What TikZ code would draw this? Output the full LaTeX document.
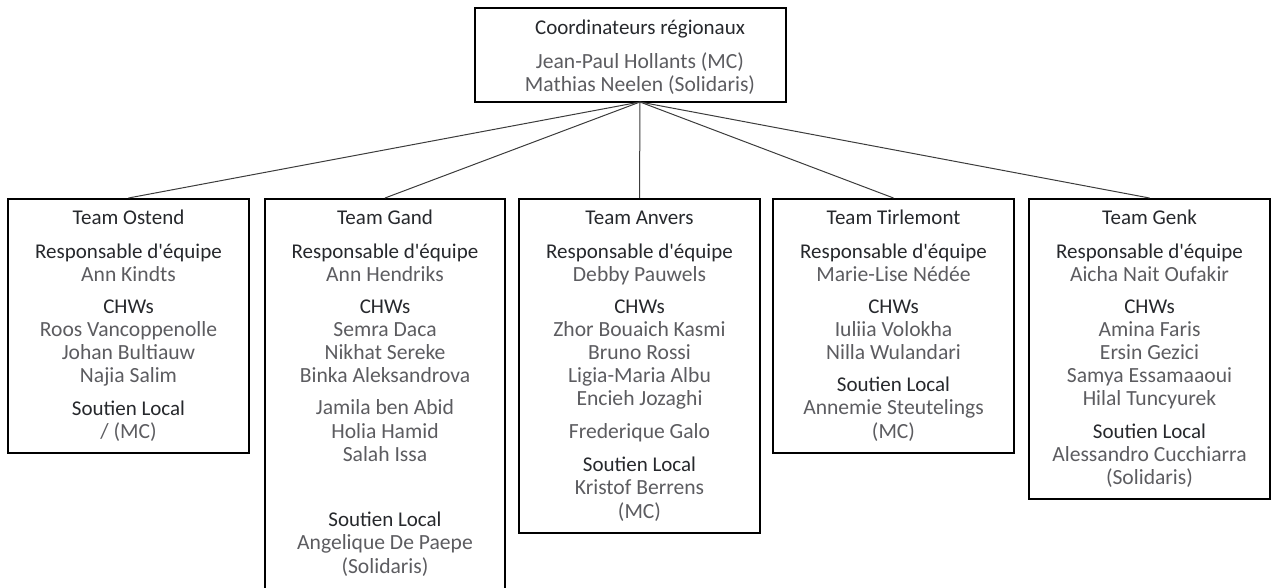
\documentclass[tikz,border=0pt]{standalone}
\usepackage{fontspec}
\setmainfont{Carlito}[Ligatures=TeXOff]
\definecolor{hdcol}{RGB}{38,40,44}
\definecolor{nmcol}{RGB}{92,92,96}
\definecolor{lncol}{RGB}{60,60,60}
\tikzset{
  orgbox/.style={draw=black, line width=2pt, rectangle, inner sep=0pt},
  hd/.style={anchor=base, inner sep=0pt, text=hdcol, font=\fontsize{21}{23}\selectfont},
  nm/.style={anchor=base, inner sep=0pt, text=nmcol, font=\fontsize{21.6}{23}\selectfont},
  link/.style={draw=lncol, line width=1pt}
}
\begin{document}
\begin{tikzpicture}[x=1pt,y=-1pt]
\useasboundingbox (0,0) rectangle (1278,587);
\clip (0,0) rectangle (1278,587);
% boxes
\node[orgbox, minimum width=311pt, minimum height=94pt] (top) at (630.5,55) {};
\node[orgbox, minimum width=241pt, minimum height=254pt] (ostend) at (128.5,326) {};
\node[orgbox, minimum width=240pt, minimum height=401pt] (gand) at (385,399.5) {};
\node[orgbox, minimum width=241pt, minimum height=334pt] (anvers) at (639.5,366) {};
\node[orgbox, minimum width=241pt, minimum height=254pt] (tirl) at (893.5,326) {};
\node[orgbox, minimum width=241pt, minimum height=300pt] (genk) at (1149.5,349) {};
% connectors
\coordinate (hub) at (640,102);
\draw[link] (hub) -- (ostend.north);
\draw[link] (hub) -- (gand.north);
\draw[link] (hub) -- (anvers.north);
\draw[link] (hub) -- (tirl.north);
\draw[link] (hub) -- (genk.north);
% top text
\node[hd] (t1) at (640,34.5) {Coordinateurs régionaux};
\node[nm] (t2) at (640,68.5) {Jean-Paul Hollants (MC)};
\node[nm] (t3) at (640,91.5) {Mathias Neelen (Solidaris)};
% Ostend
\node[hd] (o1) at (128.5,224.5) {Team Ostend};
\node[hd] (o2) at (128.5,258.5) {Responsable d'équipe};
\node[nm] (o3) at (128.5,281.5) {Ann Kindts};
\node[hd] (o4) at (128.5,313.5) {CHWs};
\node[nm] (o5) at (128.5,336.5) {Roos Vancoppenolle};
\node[nm] (o6) at (128.5,359.5) {Johan Bultiauw};
\node[nm] (o7) at (128.5,382.5) {Najia Salim};
\node[hd] (o8) at (128.5,415.5) {Soutien Local};
\node[nm] (o9) at (128.5,438.5) {/ (MC)};
% Gand
\node[hd] (g1) at (385,224.5) {Team Gand};
\node[hd] (g2) at (385,258.5) {Responsable d'équipe};
\node[nm] (g3) at (385,281.5) {Ann Hendriks};
\node[hd] (g4) at (385,313.5) {CHWs};
\node[nm] (g5) at (385,336.5) {Semra Daca};
\node[nm] (g6) at (385,359.5) {Nikhat Sereke};
\node[nm] (g7) at (385,382.5) {Binka Aleksandrova};
\node[nm] (g8) at (385,414.5) {Jamila ben Abid};
\node[nm] (g9) at (385,438.5) {Holia Hamid};
\node[nm] (g10) at (385,461.5) {Salah Issa};
\node[hd] (g11) at (385,526.5) {Soutien Local};
\node[nm] (g12) at (385,549.5) {Angelique De Paepe};
\node[nm] (g13) at (385,573.5) {(Solidaris)};
% Anvers
\node[hd] (a1) at (639.5,224.5) {Team Anvers};
\node[hd] (a2) at (639.5,258.5) {Responsable d'équipe};
\node[nm] (a3) at (639.5,281.5) {Debby Pauwels};
\node[hd] (a4) at (639.5,313.5) {CHWs};
\node[nm] (a5) at (639.5,336.5) {Zhor Bouaich Kasmi};
\node[nm] (a6) at (639.5,359.5) {Bruno Rossi};
\node[nm] (a7) at (639.5,382.5) {Ligia-Maria Albu};
\node[nm] (a8) at (639.5,405.5) {Encieh Jozaghi};
\node[nm] (a9) at (639.5,438.5) {Frederique Galo};
\node[hd] (a10) at (639.5,471.5) {Soutien Local};
\node[nm] (a11) at (639.5,494.5) {Kristof Berrens};
\node[nm] (a12) at (639.5,518.5) {(MC)};
% Tirlemont
\node[hd] (r1) at (893.5,224.5) {Team Tirlemont};
\node[hd] (r2) at (893.5,258.5) {Responsable d'équipe};
\node[nm] (r3) at (893.5,281.5) {Marie-Lise Nédée};
\node[hd] (r4) at (893.5,313.5) {CHWs};
\node[nm] (r5) at (893.5,336.5) {Iuliia Volokha};
\node[nm] (r6) at (893.5,359.5) {Nilla Wulandari};
\node[hd] (r7) at (893.5,391.5) {Soutien Local};
\node[nm] (r8) at (893.5,414.5) {Annemie Steutelings};
\node[nm] (r9) at (893.5,438.5) {(MC)};
% Genk
\node[hd] (k1) at (1149.5,224.5) {Team Genk};
\node[hd] (k2) at (1149.5,258.5) {Responsable d'équipe};
\node[nm] (k3) at (1149.5,281.5) {Aicha Nait Oufakir};
\node[hd] (k4) at (1149.5,313.5) {CHWs};
\node[nm] (k5) at (1149.5,336.5) {Amina Faris};
\node[nm] (k6) at (1149.5,359.5) {Ersin Gezici};
\node[nm] (k7) at (1149.5,382.5) {Samya Essamaaoui};
\node[nm] (k8) at (1149.5,405.5) {Hilal Tuncyurek};
\node[hd] (k9) at (1149.5,438.5) {Soutien Local};
\node[nm] (k10) at (1149.5,461.5) {Alessandro Cucchiarra};
\node[nm] (k11) at (1149.5,484.5) {(Solidaris)};
\end{tikzpicture}
\end{document}
